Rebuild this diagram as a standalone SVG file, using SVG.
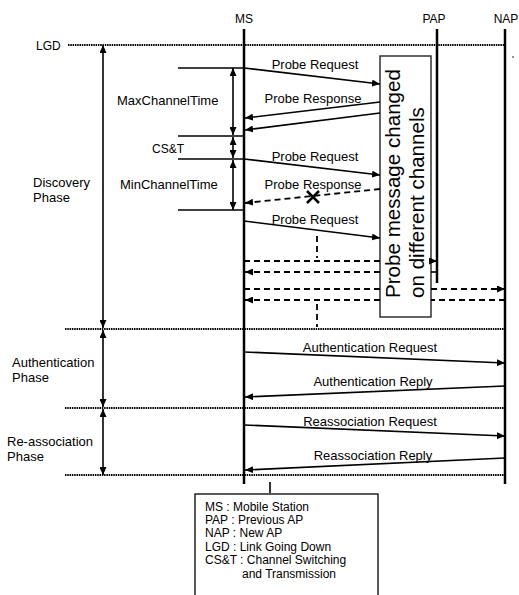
<svg xmlns="http://www.w3.org/2000/svg" width="519" height="595" viewBox="0 0 519 595">
<style>
text{font-family:"Liberation Sans",Arial,sans-serif;fill:#000}
.lbl{font-size:13px;text-anchor:middle}
.sm{font-size:12px}
.life{stroke:#000;stroke-width:2.5;fill:none}
.dot{stroke:#000;stroke-width:1.8;stroke-dasharray:1.5 0.8;fill:none}
.sol{stroke:#000;stroke-width:1.6;fill:none}
.dsh{stroke:#000;stroke-width:1.8;stroke-dasharray:6 4;fill:none}
.arr{marker-end:url(#ah)}
.dbl{marker-start:url(#ah);marker-end:url(#ah)}
</style>
<defs>
<marker id="ah" markerUnits="userSpaceOnUse" markerWidth="8" markerHeight="7" refX="8" refY="3.5" orient="auto-start-reverse">
<path d="M0,0 L8,3.5 L0,7 z" fill="#000"/>
</marker>
</defs>
<rect width="519" height="595" fill="#fff"/>

<g id="MS">
<text class="sm" x="244" y="23" text-anchor="middle">MS</text>
<line class="life" x1="244" y1="29" x2="244" y2="484"/>
</g>
<g id="PAP">
<text class="sm" x="434" y="23" text-anchor="middle">PAP</text>
<line class="life" x1="437" y1="29" x2="437" y2="283"/>
</g>
<g id="NAP">
<text class="sm" x="506" y="23" text-anchor="middle">NAP</text>
<line class="life" x1="505" y1="29" x2="505" y2="484"/>
<circle cx="513" cy="57" r="0.8" fill="#000"/>
</g>

<g id="phases">
<text class="sm" x="36" y="50">LGD</text>
<line class="dot" x1="68" y1="45" x2="505" y2="45"/>
<line class="dot" x1="65" y1="329" x2="505" y2="329"/>
<line class="dot" x1="65" y1="408" x2="505" y2="408"/>
<line class="dot" x1="65" y1="475" x2="505" y2="475"/>
<text font-size="13" x="33" y="187">Discovery</text>
<text font-size="13" x="33" y="202">Phase</text>
<text font-size="13" x="12" y="367">Authentication</text>
<text font-size="13" x="12" y="382">Phase</text>
<text font-size="13" x="7" y="446">Re-association</text>
<text font-size="13" x="7" y="461">Phase</text>
<line class="sol dbl" x1="103" y1="45" x2="103" y2="328" stroke-width="2"/>
<line class="sol dbl" x1="103" y1="330" x2="103" y2="407" stroke-width="2"/>
<line class="sol dbl" x1="103" y1="409" x2="103" y2="475" stroke-width="2"/>
</g>

<g id="timing">
<line class="sol" x1="178" y1="68" x2="244" y2="68"/>
<line class="sol" x1="178" y1="136" x2="244" y2="136"/>
<line class="sol" x1="178" y1="159" x2="244" y2="159"/>
<line class="sol" x1="178" y1="210" x2="244" y2="210"/>
<line class="sol dbl" x1="233" y1="68" x2="233" y2="135"/>
<line class="sol dbl" x1="233" y1="137" x2="233" y2="158"/>
<line class="sol dbl" x1="233" y1="160" x2="233" y2="210"/>
<text font-size="13" x="117" y="105">MaxChannelTime</text>
<text class="sm" x="152" y="153">CS&amp;T</text>
<text font-size="13" x="120" y="189">MinChannelTime</text>
</g>

<g id="channel-box">
<rect x="380" y="56" width="51" height="261" fill="#fff" stroke="#222" stroke-width="1.4"/>
<text font-size="20.6" transform="translate(400,298) rotate(-90)">Probe message changed</text>
<text font-size="20.6" transform="translate(424,298) rotate(-90)">on different channels</text>
</g>

<g id="connectors">
<line class="sol arr" x1="244" y1="68" x2="380" y2="84"/>
<text class="lbl" x="315" y="69">Probe Request</text>
<line class="sol arr" x1="380" y1="102" x2="245" y2="118"/>
<text class="lbl" x="313" y="103">Probe Response</text>
<line class="sol arr" x1="380" y1="113" x2="245" y2="130"/>
<line class="sol arr" x1="244" y1="159" x2="380" y2="175"/>
<text class="lbl" x="315" y="161">Probe Request</text>
<line class="dsh arr" x1="380" y1="189" x2="245" y2="203"/>
<text class="lbl" x="313" y="189">Probe Response</text>
<path d="M307,191 L319,203 M319,191 L307,203" stroke="#000" stroke-width="2.5" fill="none"/>
<line class="sol arr" x1="244" y1="221" x2="380" y2="238"/>
<text class="lbl" x="315" y="224">Probe Request</text>
<line class="dsh" x1="317" y1="236" x2="317" y2="258" stroke-width="2" stroke-dasharray="4 3"/>
<line class="dsh" x1="244" y1="261" x2="380" y2="261"/>
<line class="dsh arr" x1="431" y1="261" x2="437" y2="261"/>
<line class="dsh arr" x1="380" y1="272" x2="245" y2="272"/>
<line class="sol" x1="431" y1="272" x2="437" y2="272" stroke-width="1.2"/>
<line class="dsh" x1="244" y1="289" x2="380" y2="289"/>
<line class="dsh arr" x1="431" y1="289" x2="505" y2="289"/>
<line class="dsh" x1="505" y1="300" x2="431" y2="300"/>
<line class="dsh arr" x1="380" y1="300" x2="245" y2="300"/>
<line class="dsh" x1="317" y1="304" x2="317" y2="327" stroke-width="2" stroke-dasharray="4 3"/>
<line class="sol arr" x1="244" y1="352" x2="505" y2="363"/>
<text class="lbl" x="370" y="352">Authentication Request</text>
<line class="sol arr" x1="505" y1="386" x2="245" y2="397"/>
<text class="lbl" x="373" y="386">Authentication Reply</text>
<line class="sol arr" x1="244" y1="425" x2="505" y2="436"/>
<text class="lbl" x="370" y="426">Reassociation Request</text>
<line class="sol arr" x1="505" y1="458" x2="245" y2="470"/>
<text class="lbl" x="373" y="460">Reassociation Reply</text>
</g>

<g id="legend">
<line class="sol" x1="270" y1="482" x2="270" y2="493" stroke-width="2"/>
<rect x="195" y="494" width="183" height="110" fill="#fff" stroke="#000" stroke-width="1.3"/>
<text class="sm" x="205" y="511">MS : Mobile Station</text>
<text class="sm" x="205" y="524">PAP : Previous AP</text>
<text class="sm" x="205" y="537">NAP : New AP</text>
<text class="sm" x="205" y="551">LGD : Link Going Down</text>
<text class="sm" x="205" y="564">CS&amp;T : Channel Switching</text>
<text class="sm" x="242" y="578">and Transmission</text>
</g>
</svg>
